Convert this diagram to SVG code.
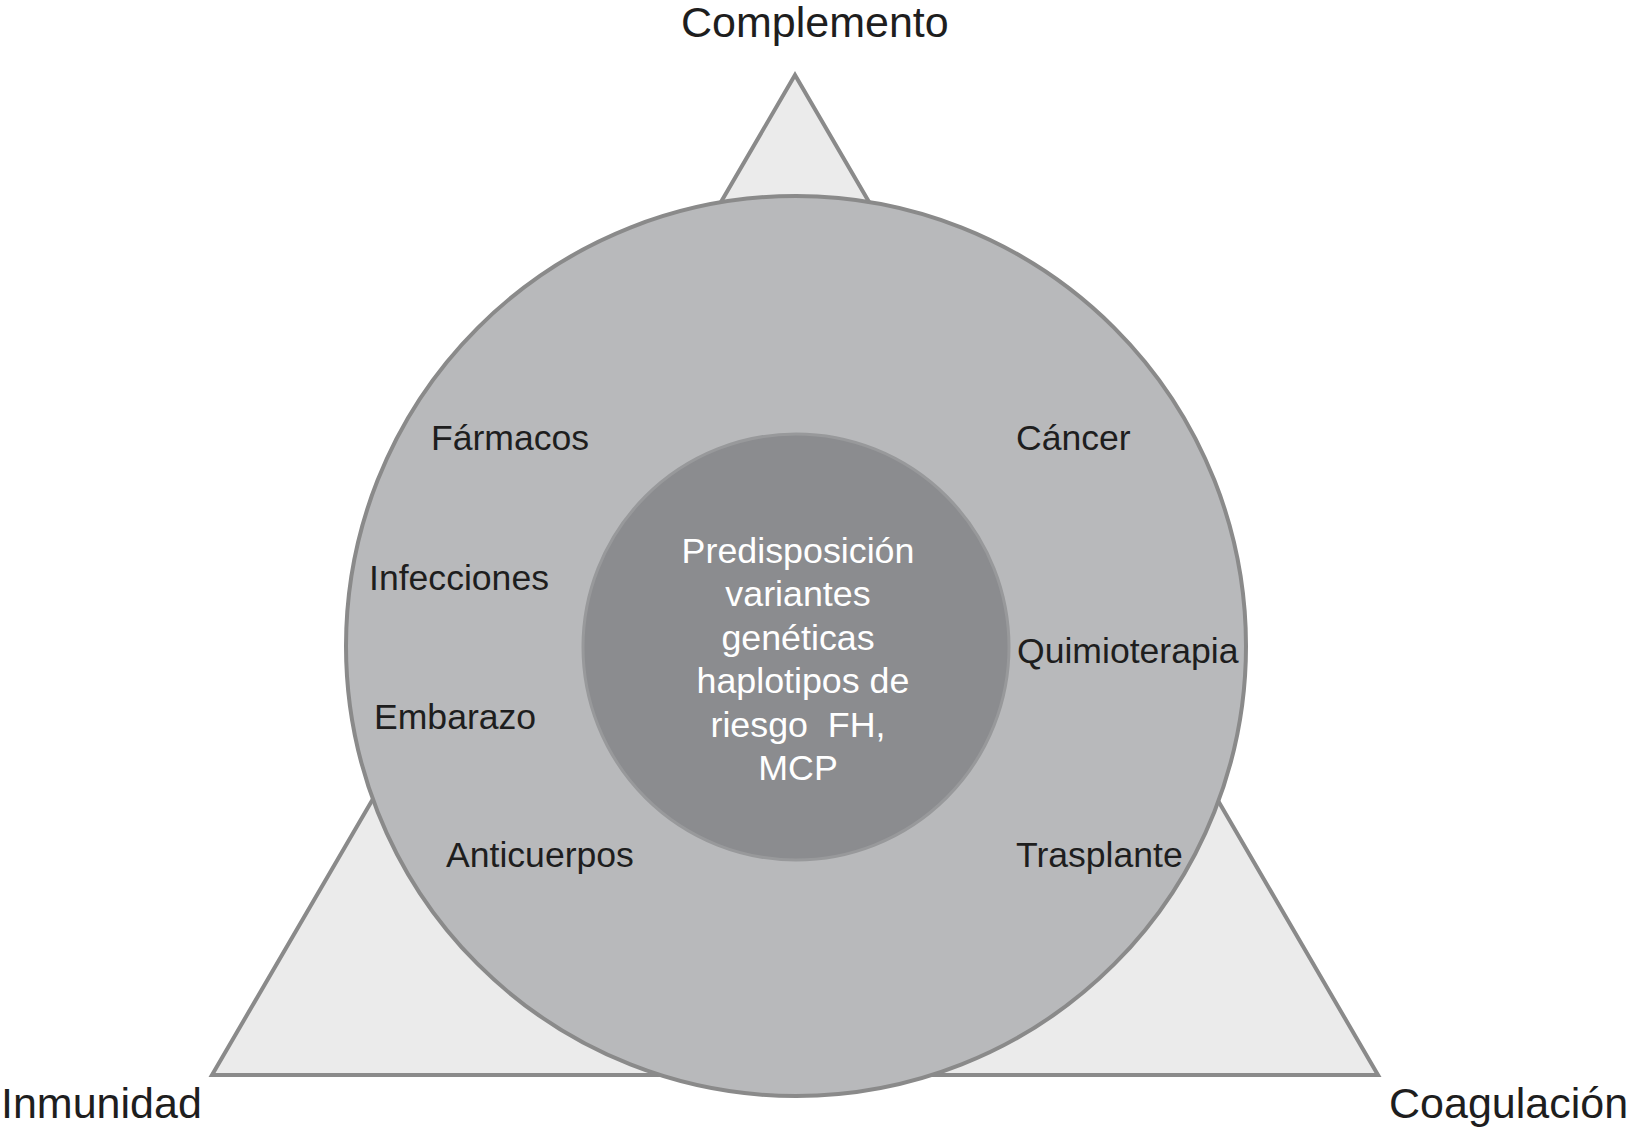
<svg xmlns="http://www.w3.org/2000/svg" width="1642" height="1129" viewBox="0 0 1642 1129">
<style>
.lbl{font-family:"Liberation Sans",Arial,sans-serif;font-size:35.6px;fill:#1e1e1e}
.big{font-family:"Liberation Sans",Arial,sans-serif;font-size:43px;fill:#1e1e1e}
.core{font-family:"Liberation Sans",Arial,sans-serif;font-size:35.8px;fill:#ffffff;text-anchor:middle}
</style>
<rect width="1642" height="1129" fill="#ffffff"/>
<g id="triangle">
<polygon points="795,75 1378,1075 212,1075" fill="#ebebeb" stroke="#8a8a8a" stroke-width="4" stroke-linejoin="miter"/>
</g>
<g id="outer-circle">
<circle cx="796" cy="646" r="450" fill="#b8b9bb" stroke="#8a8a8a" stroke-width="4"/>
</g>
<g id="inner-circle">
<circle cx="796" cy="647" r="213" fill="#8b8c8f" stroke="#98999b" stroke-width="3"/>
<text class="core" xml:space="preserve"><tspan x="798" y="563">Predisposición</tspan><tspan x="798" y="606">variantes</tspan><tspan x="798" y="650">genéticas</tspan><tspan x="798" y="693"> haplotipos de</tspan><tspan x="798" y="737">riesgo  FH,</tspan><tspan x="798" y="780">MCP</tspan></text>
</g>
<g id="labels-corners">
<text class="big" x="681" y="37">Complemento</text>
<text class="big" x="1" y="1118">Inmunidad</text>
<text class="big" x="1389" y="1118">Coagulación</text>
</g>
<g id="labels-left">
<text class="lbl" x="431" y="450">Fármacos</text>
<text class="lbl" x="369" y="590">Infecciones</text>
<text class="lbl" x="374" y="729">Embarazo</text>
<text class="lbl" x="446" y="867">Anticuerpos</text>
</g>
<g id="labels-right">
<text class="lbl" x="1016" y="450">Cáncer</text>
<text class="lbl" x="1017" y="663">Quimioterapia</text>
<text class="lbl" x="1016" y="867">Trasplante</text>
</g>
<g id="connectors"></g>
</svg>
